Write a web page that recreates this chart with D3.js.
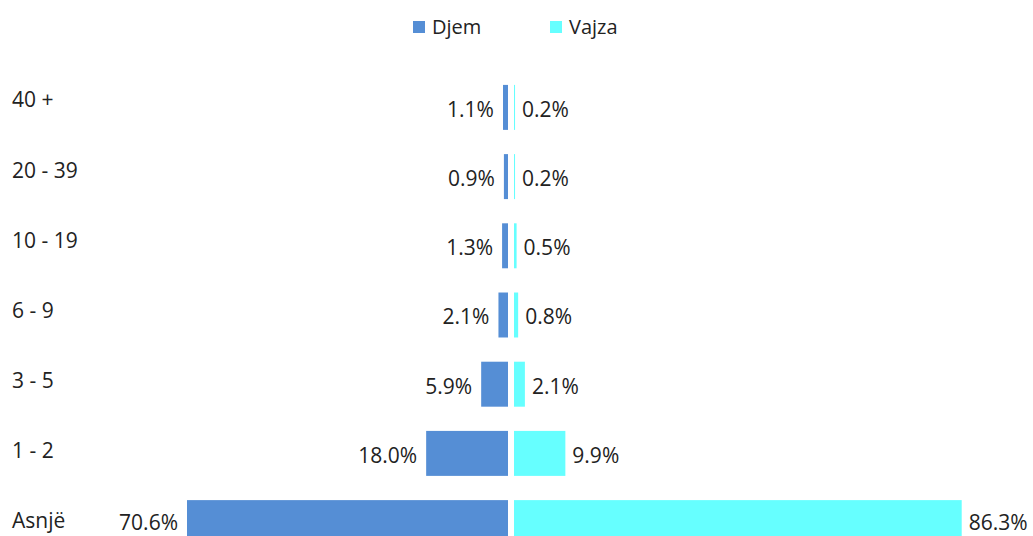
<!DOCTYPE html>
<html>
<head>
<meta charset="utf-8">
<script src="https://cdn.jsdelivr.net/npm/d3@7"></script>
<style>
  body { margin: 0; background: #fff; }
  text { font-family: "Open Sans", sans-serif; fill: #222; }
</style>
</head>
<body>
<script>
// categories top to bottom
var categories = ["40 +", "20 - 39", "10 - 19", "6 - 9", "3 - 5", "1 - 2", "Asnjë"];
var djem = [1.1, 0.9, 1.3, 2.1, 5.9, 18.0, 70.6];
var vajza = [0.2, 0.2, 0.5, 0.8, 2.1, 9.9, 86.3];
var seriesNames = ["Djem", "Vajza"];
var colors = ["#558ED5", "#66FFFF"];

var width = 1033, height = 536;

var svg = d3.select("body").append("svg")
    .attr("width", width)
    .attr("height", height);

// rows
var y = d3.scaleBand()
    .domain(categories)
    .range([72.8, 557.2])
    .paddingInner(0.35)
    .paddingOuter(0.175);

// the category labels sit a little apart from the bars in the original
var yLabel = d3.scalePoint()
    .domain(categories)
    .range([100, 521]);

// each side has its own scale
var xLeft = d3.scaleLinear().domain([0, 70.6]).range([508, 187]);
var xRight = d3.scaleLinear().domain([0, 86.3]).range([514, 961.7]);

var rows = categories.map(function(c, i) {
  return {cat: c, djem: djem[i], vajza: vajza[i]};
});

// left bars (Djem)
svg.selectAll(".barL")
    .data(rows)
  .enter().append("rect")
    .attr("class", "barL")
    .attr("x", function(d) { return xLeft(d.djem); })
    .attr("y", function(d) { return y(d.cat); })
    .attr("width", function(d) { return xLeft(0) - xLeft(d.djem); })
    .attr("height", y.bandwidth())
    .attr("fill", colors[0]);

// right bars (Vajza)
svg.selectAll(".barR")
    .data(rows)
  .enter().append("rect")
    .attr("class", "barR")
    .attr("x", xRight(0))
    .attr("y", function(d) { return y(d.cat); })
    .attr("width", function(d) { return xRight(d.vajza) - xRight(0); })
    .attr("height", y.bandwidth())
    .attr("fill", colors[1]);

// value labels
svg.selectAll(".valL")
    .data(rows)
  .enter().append("text")
    .attr("class", "valL")
    .attr("x", function(d) { return xLeft(d.djem) - 9; })
    .attr("y", function(d, i) { return y(d.cat) + y.bandwidth() / 2 + (i < 6 ? 2 : 0); })
    .attr("dy", ".35em")
    .attr("text-anchor", "end")
    .attr("font-size", 21)
    .text(function(d) { return d.djem.toFixed(1) + "%"; });

svg.selectAll(".valR")
    .data(rows)
  .enter().append("text")
    .attr("class", "valR")
    .attr("x", function(d) { return xRight(d.vajza) + 7; })
    .attr("y", function(d, i) { return y(d.cat) + y.bandwidth() / 2 + (i < 6 ? 2 : 0); })
    .attr("dy", ".35em")
    .attr("font-size", 21)
    .text(function(d) { return d.vajza.toFixed(1) + "%"; });

// category labels
svg.selectAll(".cat")
    .data(categories)
  .enter().append("text")
    .attr("class", "cat")
    .attr("x", 12)
    .attr("y", function(d) { return yLabel(d); })
    .attr("dy", ".35em")
    .attr("font-size", 21)
    .text(function(d) { return d; });

// legend
var legend = svg.selectAll(".legend")
    .data(seriesNames)
  .enter().append("g")
    .attr("class", "legend")
    .attr("transform", function(d, i) { return "translate(" + (413 + i * 137) + ",21)"; });
legend.append("rect")
    .attr("width", 12)
    .attr("height", 12)
    .attr("fill", function(d, i) { return colors[i]; });
legend.append("text")
    .attr("x", 19)
    .attr("y", 6)
    .attr("dy", ".35em")
    .attr("font-size", 20)
    .text(function(d) { return d; });
</script>
</body>
</html>
